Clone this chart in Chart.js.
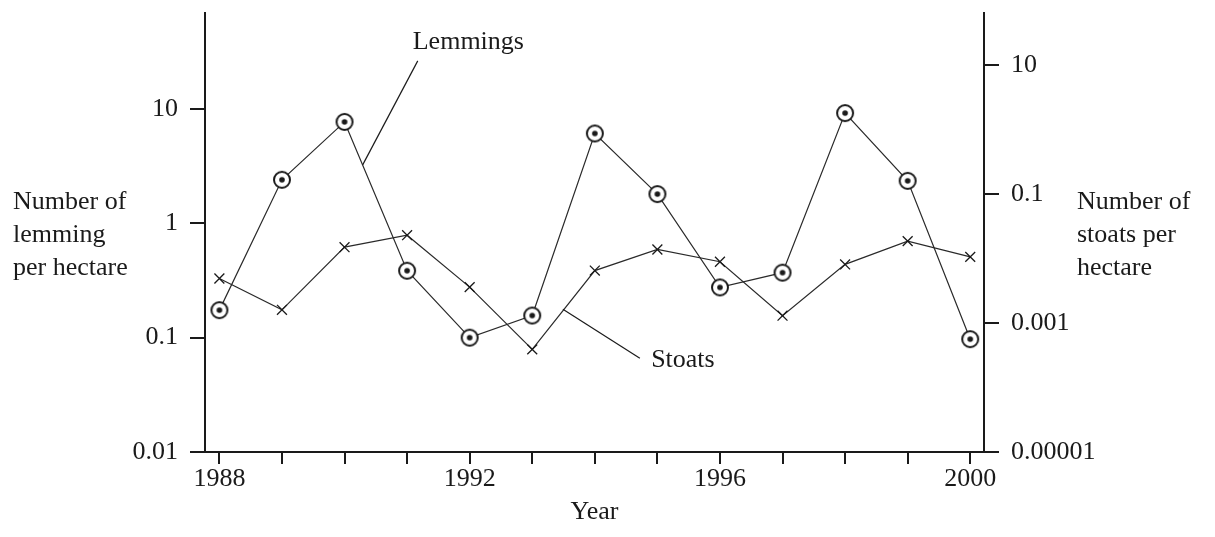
<!DOCTYPE html>
<html>
<head>
<meta charset="utf-8">
<script src="https://cdn.jsdelivr.net/npm/chart.js"></script>
<style>
  html, body { margin: 0; padding: 0; background: #fff; }
  canvas { display: block; }
</style>
</head>
<body>
<canvas id="chart" width="1215" height="537"></canvas>
<script>
const years = [1988, 1989, 1990, 1991, 1992, 1993, 1994, 1995, 1996, 1997, 1998, 1999, 2000];
const lemmings = [0.174, 2.4, 7.7, 0.385, 0.10, 0.156, 6.1, 1.8, 0.275, 0.37, 9.2, 2.35, 0.097];
const stoats = [0.0049, 0.0016, 0.015, 0.023, 0.0036, 0.00039, 0.0065, 0.0138, 0.0089, 0.0013, 0.0081, 0.0186, 0.0106];

const yearLabels = [1988, 1992, 1996, 2000];
const leftTicks = [0.01, 0.1, 1, 10];
const leftTickLabels = ['0.01', '0.1', '1', '10'];
const rightTicks = [0.00001, 0.001, 0.1, 10];
const rightTickLabels = ['0.00001', '0.001', '0.1', '10'];

const FONT = '"Liberation Serif", "Times New Roman", serif';
const INK = '#1a1a1a';

// circle-with-dot marker for lemmings
function makeRingMarker() {
    const c = document.createElement('canvas');
    c.width = 22; c.height = 22;
    const g = c.getContext('2d');
    g.beginPath();
    g.arc(11, 11, 8, 0, Math.PI * 2);
    g.fillStyle = '#fff';
    g.fill();
    g.lineWidth = 2;
    g.strokeStyle = INK;
    g.stroke();
    g.beginPath();
    g.arc(11, 11, 2.8, 0, Math.PI * 2);
    g.fillStyle = INK;
    g.fill();
    return c;
}

// label + pointer line, in data coordinates
const notes = [
    { text: 'Lemmings', axis: 'yL', tx: 1991.09, ty: 38.5, from: [1991.17, 26.3], to: [1990.29, 3.24] },
    { text: 'Stoats', axis: 'yR', tx: 1994.9, ty: 0.000265, from: [1994.72, 0.000284], to: [1993.49, 0.00164] }
];

const annotate = {
    id: 'annotate',
    afterDatasetsDraw(chart) {
        const ctx = chart.ctx;
        const xs = chart.scales.x;
        ctx.save();
        ctx.strokeStyle = INK;
        ctx.lineWidth = 1.2;
        ctx.fillStyle = INK;
        ctx.font = '26px ' + FONT;
        ctx.textAlign = 'left';
        ctx.textBaseline = 'middle';
        notes.forEach(n => {
            const ys = chart.scales[n.axis];
            ctx.beginPath();
            ctx.moveTo(xs.getPixelForValue(n.from[0]), ys.getPixelForValue(n.from[1]));
            ctx.lineTo(xs.getPixelForValue(n.to[0]), ys.getPixelForValue(n.to[1]));
            ctx.stroke();
            ctx.fillText(n.text, xs.getPixelForValue(n.tx), ys.getPixelForValue(n.ty));
        });
        ctx.restore();
    },
    afterDraw(chart) {
        const ctx = chart.ctx;
        const a = chart.chartArea;
        ctx.save();
        ctx.fillStyle = INK;
        ctx.font = '26px ' + FONT;
        ctx.textBaseline = 'middle';
        ctx.textAlign = 'left';
        ['Number of', 'lemming', 'per hectare'].forEach((t, i) => ctx.fillText(t, 13, 202 + i * 33));
        ['Number of', 'stoats per', 'hectare'].forEach((t, i) => ctx.fillText(t, a.right + 93, 202 + i * 33));
        ctx.textAlign = 'center';
        ctx.fillText('Year', (a.left + a.right) / 2, 512);
        ctx.restore();
    }
};

const axisGrid = { display: true, drawOnChartArea: false, drawTicks: true, color: INK, lineWidth: 2 };
const axisBorder = { display: true, color: INK, width: 2 };

function fitY(width) {
    return s => {
        s.width = width;
        s.paddingTop = 0;
        s.paddingBottom = 0;
    };
}

new Chart(document.getElementById('chart'), {
    type: 'line',
    data: {
        datasets: [
            {
                label: 'Stoats',
                yAxisID: 'yR',
                data: years.map((y, i) => ({ x: y, y: stoats[i] })),
                borderColor: '#2a2a2a',
                borderWidth: 1.2,
                pointStyle: 'crossRot',
                pointRadius: 7,
                pointBorderWidth: 1.3,
                pointBorderColor: INK,
                tension: 0
            },
            {
                label: 'Lemmings',
                yAxisID: 'yL',
                data: years.map((y, i) => ({ x: y, y: lemmings[i] })),
                borderColor: '#2a2a2a',
                borderWidth: 1.2,
                pointStyle: makeRingMarker(),
                pointRadius: 9,
                tension: 0
            }
        ]
    },
    options: {
        responsive: false,
        animation: false,
        devicePixelRatio: 1,
        layout: { padding: { top: 13, left: 0, right: 0, bottom: 0 } },
        plugins: { legend: { display: false }, tooltip: { enabled: false } },
        scales: {
            x: {
                type: 'linear',
                min: 1987.77,
                max: 2000.22,
                grid: Object.assign({}, axisGrid, { tickLength: 12 }),
                border: axisBorder,
                afterBuildTicks: s => { s.ticks = years.map(v => ({ value: v })); },
                afterFit: s => { s.height = 85; },
                ticks: {
                    autoSkip: false,
                    maxRotation: 0,
                    padding: 0,
                    color: INK,
                    font: { family: FONT, size: 26 },
                    callback: v => (yearLabels.includes(v) ? String(v) : '')
                }
            },
            yL: {
                type: 'logarithmic',
                position: 'left',
                min: 0.01,
                max: 69,
                grid: Object.assign({}, axisGrid, { tickLength: 15 }),
                border: axisBorder,
                afterBuildTicks: s => { s.ticks = leftTicks.map(v => ({ value: v })); },
                afterFit: fitY(205),
                ticks: {
                    padding: 12,
                    color: INK,
                    font: { family: FONT, size: 26 },
                    callback: v => leftTickLabels[leftTicks.indexOf(v)]
                }
            },
            yR: {
                type: 'logarithmic',
                position: 'right',
                min: 0.00001,
                max: 64,
                grid: Object.assign({}, axisGrid, { tickLength: 15 }),
                border: axisBorder,
                afterBuildTicks: s => { s.ticks = rightTicks.map(v => ({ value: v })); },
                afterFit: fitY(231),
                ticks: {
                    padding: 12,
                    color: INK,
                    font: { family: FONT, size: 26 },
                    callback: v => rightTickLabels[rightTicks.indexOf(v)]
                }
            }
        }
    },
    plugins: [annotate]
});
</script>
</body>
</html>
